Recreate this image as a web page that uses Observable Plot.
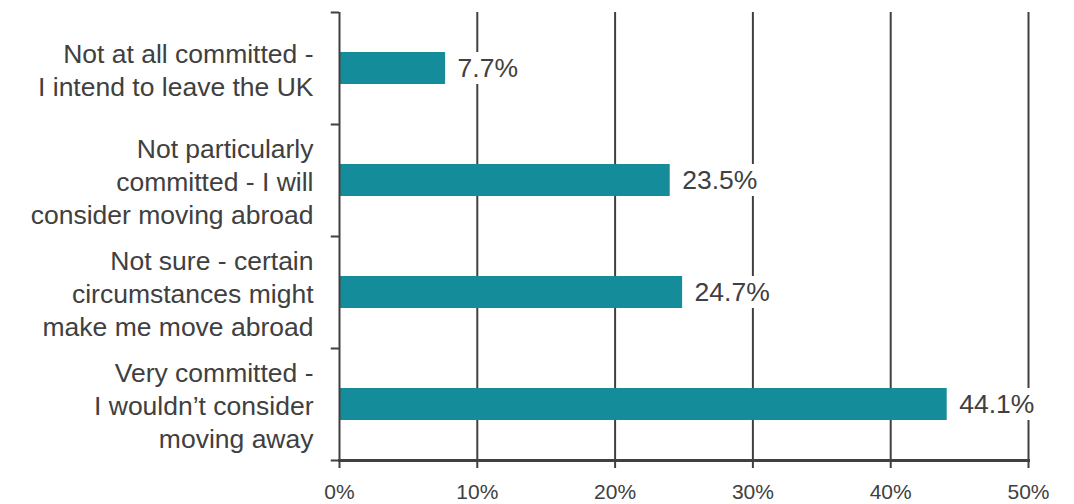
<!DOCTYPE html>
<html>
<head>
<meta charset="utf-8">
<script src="https://cdn.jsdelivr.net/npm/d3@7"></script>
<script src="https://cdn.jsdelivr.net/npm/@observablehq/plot@0.6"></script>
<style>
  html, body { margin: 0; padding: 0; background: #fff; }
  #chart svg { display: block; }
</style>
</head>
<body>
<div id="chart"></div>
<script>
const categories = [
  "Not at all committed -\nI intend to leave the UK",
  "Not particularly\ncommitted - I will\nconsider moving abroad",
  "Not sure - certain\ncircumstances might\nmake me move abroad",
  "Very committed -\nI wouldn\u2019t consider\nmoving away"
];
// bar lengths as drawn in the reference
const values = [7.7, 24.0, 24.9, 44.1];
// value labels as printed in the reference
const valueLabels = ["7.7%", "23.5%", "24.7%", "44.1%"];
const xTicks = [0, 10, 20, 30, 40, 50];

const data = categories.map((c, i) => ({category: c, value: values[i], label: valueLabels[i]}));
const ink = "#404040";
const barColor = "#148c99";
const font = "'Liberation Sans', Arial, sans-serif";

const W = 1074, H = 504, mT = 12, mB = 44, mL = 339, mR = 46;
const step = (H - mT - mB) / categories.length;
const pxPerUnit = (W - mL - mR) / 50;

const chart = Plot.plot({
  width: W,
  height: H,
  marginTop: mT,
  marginBottom: mB,
  marginLeft: mL,
  marginRight: mR,
  style: {fontFamily: font, color: ink, background: "#fff", overflow: "visible"},
  x: {domain: [0, 50], ticks: xTicks},
  y: {domain: categories, padding: 0.714, paddingOuter: 0.357, axis: null},
  marks: [
    Plot.ruleX(xTicks.filter(d => d > 0), {stroke: ink, strokeWidth: 2}),
    Plot.barX(data, {x: "value", y: "category", fill: barColor}),
    // white backing box behind each value label (hides gridlines)
    Plot.barX(data, {
      x1: "value",
      x2: d => d.value + (12 + d.label.length * 15.5) / pxPerUnit,
      y: "category", fill: "white", insetLeft: 8
    }),
    Plot.ruleX([0], {stroke: ink, strokeWidth: 2}),
    Plot.ruleY(categories, {y: d => d, x1: -0.6, x2: 0, dy: -step / 2, stroke: ink, strokeWidth: 2}),
    Plot.ruleY(categories.slice(-1), {y: d => d, x1: -0.6, x2: 0, dy: step / 2, stroke: ink, strokeWidth: 2}),
    Plot.frame({anchor: "bottom", stroke: ink, strokeWidth: 3}),
    Plot.axisX({ticks: xTicks, tickSize: 8, tickPadding: 16, tickFormat: d => d + "%", fontSize: 21, stroke: ink, strokeWidth: 2, strokeOpacity: 1, fill: ink, label: null}),
    Plot.text(data, {x: 0, y: "category", text: "category", textAnchor: "end", dx: -26, fontSize: 26.5, lineHeight: 1.25, fill: ink}),
    Plot.text(data, {x: "value", y: "category", text: "label", textAnchor: "start", dx: 12, fontSize: 26.5, fill: ink})
  ]
});

document.getElementById("chart").appendChild(chart);
</script>
</body>
</html>
